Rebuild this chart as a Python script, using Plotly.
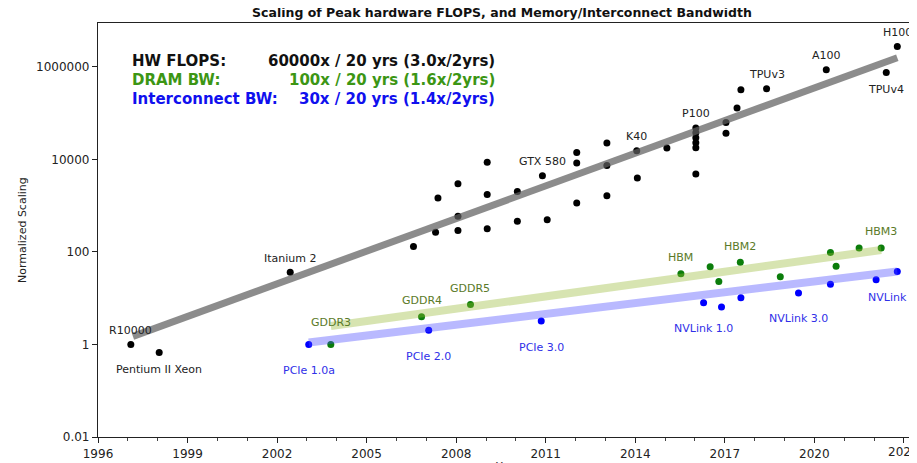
import math
import plotly.graph_objects as go

# ---------------- data ----------------
hw_years = [1997.1, 1998.05, 2002.44, 2006.57, 2007.31, 2007.39, 2008.06, 2008.06, 2008.06,
            2009.04, 2009.04, 2009.04, 2010.05, 2010.05, 2010.89, 2011.05, 2012.04, 2012.04,
            2012.04, 2013.05, 2013.05, 2013.05, 2014.05, 2014.07, 2015.06, 2016.03, 2016.03,
            2016.03, 2016.03, 2016.03, 2016.03, 2017.04, 2017.04, 2017.41, 2017.54, 2018.4,
            2020.4, 2022.41, 2022.78]
hw_vals = [1.0, 0.67, 36.5, 131, 267, 1475, 3000, 590, 290,
           8700, 1740, 316, 2040, 460, 4470, 500, 14200, 8400,
           1150, 22700, 7360, 1650, 15500, 3980, 17700, 47900, 38000,
           29500, 22900, 17800, 4870, 63000, 37000, 129000, 322000, 339000,
           870000, 760000, 2770000]
hw_labels = ["R10000", "Pentium II Xeon", "Itanium 2", "", "", "", "", "", "",
             "", "", "", "", "", "GTX 580", "", "", "",
             "", "", "", "", "K40", "", "", "P100", "",
             "", "", "", "", "", "", "", "", "TPUv3",
             "A100", "TPUv4", "H100"]

dram_years = [2003.8, 2006.84, 2008.48, 2015.53, 2016.51, 2016.8, 2017.52, 2018.86,
              2020.54, 2020.73, 2021.5, 2022.24]
dram_vals = [1.0, 4.0, 7.3, 34, 48, 23, 60, 29, 98, 49, 122, 122]
dram_labels = ["GDDR3", "GDDR4", "GDDR5", "HBM", "", "", "HBM2", "", "", "", "", "HBM3"]

ic_years = [2003.06, 2007.08, 2010.85, 2016.29, 2016.89, 2017.54, 2019.47, 2020.54,
            2022.07, 2022.78]
ic_vals = [1.0, 2.04, 3.2, 8.0, 6.5, 10.2, 13, 20, 25, 38]
ic_labels = ["PCIe 1.0a", "PCIe 2.0", "PCIe 3.0", "NVLink 1.0", "", "", "NVLink 3.0",
             "", "", "NVLink 4.0"]

hw_trend_years = [1997.17, 2022.78]
hw_trend_vals = [1.5, 1.58e6]
dram_trend_years = [2003.8, 2022.24]
dram_trend_vals = [2.5, 110]
ic_trend_years = [2003.06, 2022.78]
ic_trend_vals = [1.1, 38]

y_tickvals = [0.01, 1, 100, 10000, 1000000]
y_ticktext = ["0.01", "1", "100", "10000", "1000000"]
x_tickvals = [1996, 1999, 2002, 2005, 2008, 2011, 2014, 2017, 2020, 2023]

summary_names = ["HW FLOPS:", "DRAM BW:", "Interconnect BW:"]
summary_rates = ["60000x / 20 yrs (3.0x/2yrs)", "100x / 20 yrs (1.6x/2yrs)",
                 "30x / 20 yrs (1.4x/2yrs)"]

# ---------------- styles ----------------
FONT = "DejaVu Sans"
BLACK = "#000000"
GREEN = "#0b7d0b"
BLUE = "#0000ff"
summary_colors = ["#111111", "#3c9614", "#1010ee"]
below_labels = {"TPUv4", "Pentium II Xeon"}

# page body has an 8px margin: the figure is sized/offset to compensate
OFF = 8
W, H = 917 - OFF, 463 - OFF
PL, PT, PR, PB = 98, 23, 917, 437  # plot area in page pixels
PW, PH = PR - PL, PB - PT
XMAX = 2023.44

fig = go.Figure()

fig.add_trace(go.Scatter(x=hw_years, y=hw_vals, mode="markers",
                         marker=dict(color=BLACK, size=7), hoverinfo="skip"))
fig.add_trace(go.Scatter(x=dram_years, y=dram_vals, mode="markers",
                         marker=dict(color=GREEN, size=7), hoverinfo="skip"))
fig.add_trace(go.Scatter(x=ic_years, y=ic_vals, mode="markers",
                         marker=dict(color=BLUE, size=7), hoverinfo="skip"))

# trend bands drawn on top of markers
fig.add_trace(go.Scatter(x=hw_trend_years, y=hw_trend_vals, mode="lines",
                         line=dict(color="rgba(95,95,95,0.72)", width=7), hoverinfo="skip"))
fig.add_trace(go.Scatter(x=dram_trend_years, y=dram_trend_vals, mode="lines",
                         line=dict(color="rgba(150,185,50,0.38)", width=8), hoverinfo="skip"))
fig.add_trace(go.Scatter(x=ic_trend_years, y=ic_trend_vals, mode="lines",
                         line=dict(color="rgba(70,70,255,0.38)", width=8), hoverinfo="skip"))

annotations = []
for xs, ys, labs, col, dy_above, dy_below, default_below in [
        (hw_years, hw_vals, hw_labels, "#222222", 14, -17, False),
        (dram_years, dram_vals, dram_labels, "#5a7a28", 16, -16, False),
        (ic_years, ic_vals, ic_labels, "#3030e8", 16, -26, True)]:
    for x, y, lab in zip(xs, ys, labs):
        if not lab:
            continue
        below = default_below or lab in below_labels
        shift = dy_below if below else dy_above
        if lab == "GDDR3":
            shift = 22
        annotations.append(dict(x=x, y=math.log10(y), xref="x", yref="y", text=lab,
                                showarrow=False, yshift=shift,
                                font=dict(family=FONT, size=11, color=col)))

# summary text block
row_y = [61, 80, 99]
for name, rate, col, py in zip(summary_names, summary_rates, summary_colors, row_y):
    yp = (PB - py) / PH
    annotations.append(dict(x=(130 - PL) / PW, y=yp, xref="paper", yref="paper",
                            xanchor="left", yanchor="middle", text="<b>" + name + "</b>",
                            showarrow=False, font=dict(family=FONT, size=15, color=col)))
    annotations.append(dict(x=(497 - PL) / PW, y=yp, xref="paper", yref="paper",
                            xanchor="right", yanchor="middle", text="<b>" + rate + "</b>",
                            showarrow=False, font=dict(family=FONT, size=15, color=col)))

# last x tick label (plotly drops it because it runs past the edge)
annotations.append(dict(x=(x_tickvals[-1] - 1996) / (XMAX - 1996), y=0, xref="paper",
                        yref="paper", text=str(x_tickvals[-1]), showarrow=False,
                        xanchor="center", yanchor="top", yshift=-6,
                        font=dict(family=FONT, size=12, color="#222222")))

# axis titles
annotations.append(dict(x=(22 - PL) / PW, y=0.5, xref="paper", yref="paper",
                        text="Normalized Scaling", textangle=-90, showarrow=False,
                        xanchor="center", yanchor="middle",
                        font=dict(family=FONT, size=11, color="#222222")))
annotations.append(dict(x=0.5, y=(PB - 458) / PH, xref="paper", yref="paper",
                        text="Year", showarrow=False, xanchor="center", yanchor="top",
                        font=dict(family=FONT, size=11, color="#222222")))

fig.update_layout(
    width=W, height=H,
    margin=dict(l=PL - OFF, r=0, t=PT - OFF, b=463 - PB),
    paper_bgcolor="white", plot_bgcolor="white",
    showlegend=False,
    title=dict(text="<b>Scaling of Peak hardware FLOPS, and Memory/Interconnect Bandwidth</b>",
               x=(502 - OFF) / W, xanchor="center", y=1 - (13 - OFF) / H, yanchor="middle",
               font=dict(family=FONT, size=12.5, color="#111111")),
    annotations=annotations,
)
fig.update_xaxes(range=[1996, XMAX], tickvals=x_tickvals, showgrid=False, zeroline=False,
                 showline=True, linecolor="#222222", linewidth=1.2, mirror=True,
                 ticks="outside", ticklen=5, tickcolor="#222222",
                 minor=dict(dtick=1, ticks="outside", ticklen=3, tickcolor="#444444", showgrid=False),
                 tickfont=dict(family=FONT, size=12, color="#222222"))
fig.update_yaxes(type="log", range=[-2, 6.95], tickvals=y_tickvals, ticktext=y_ticktext,
                 showgrid=False, zeroline=False, showline=True, linecolor="#222222",
                 linewidth=1.2, ticks="outside", ticklen=5, tickcolor="#222222",
                 tickfont=dict(family=FONT, size=12, color="#222222"))

fig.write_html("out.html")
